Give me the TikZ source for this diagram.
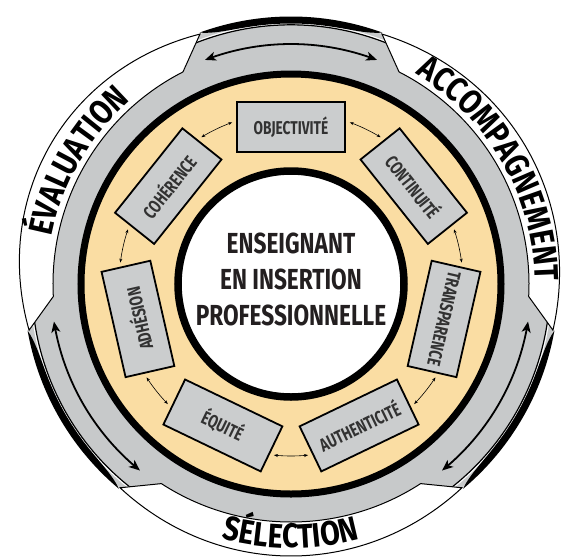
\documentclass[tikz,border=0pt]{standalone}
\usepackage{fontspec}
\setmainfont{Fira Sans}
\newfontfamily\lblfont[FakeStretch=0.84]{Fira Sans}
\newfontfamily\ctrfont[FakeStretch=0.78]{Fira Sans}
\newfontfamily\boxfont[FakeStretch=0.74]{Fira Sans}
\usetikzlibrary{arrows.meta,bending,decorations.text}
\definecolor{beige}{RGB}{250,221,163}
\definecolor{bandgray}{RGB}{199,201,202}
\definecolor{boxgray}{RGB}{203,205,206}
\definecolor{inkdark}{RGB}{35,31,32}
\definecolor{boxink}{RGB}{50,50,50}
\begin{document}
\begin{tikzpicture}[x=1pt,y=1pt,
  boxnode/.style={draw=black, line width=1.8pt, fill=boxgray, minimum width=108pt, minimum height=50pt, inner sep=0pt, font=\boxfont\bfseries\fontsize{18.5}{18.5}\selectfont, text=boxink},
  smallarr/.style={line width=0.6pt, {Stealth[length=4pt,width=3pt]}-{Stealth[length=4pt,width=3pt]}},
  bigarr/.style={line width=1.8pt, {Stealth[length=11pt,width=9pt,inset=3pt]}-{Stealth[length=11pt,width=9pt,inset=3pt]}},
  tabline/.style={draw=black, line width=1pt, fill=white},
  lbltext/.style={decorate, decoration={text along path, text align=center, text={|\lblfont\bfseries\fontsize{34}{34}\selectfont|#1}}}
]
\useasboundingbox (-291,-274) rectangle (276,284);
% grey band
\fill[bandgray] (0,0) circle[radius=266];
% outer rims of the grey segments
\foreach \c in {90,210,330}{
  \pgfmathsetmacro\sa{\c-20}
  \pgfmathsetmacro\sb{\c+20}
  \pgfmathsetmacro\ha{\c-21.5}
  \pgfmathsetmacro\hb{\c+21.5}
  \draw[black, line width=1.2pt] (\ha:259.2) arc[start angle=\ha, end angle=\hb, radius=259.2];
  \draw[white, line width=0.9pt] (\ha:260.6) arc[start angle=\ha, end angle=\hb, radius=260.6];
  \fill[black] plot[domain=\sa:\sb, samples=41] (\x:267.5)
     -- plot[domain=\sb:\sa, samples=41] (\x:{267.5-7*(1-(((\x-\c)/20)*((\x-\c)/20))^3)}) -- cycle;
}
% white label tabs
\foreach \c/\bl in {150/12, 30/6, 270/6}{
  \pgfmathsetmacro\ia{\c+33}
  \pgfmathsetmacro\ib{\c-33}
  \pgfmathsetmacro\oa{\c-40}
  \pgfmathsetmacro\ob{\c+40}
  \draw[tabline] (\ia:238) arc[start angle=\ia, end angle=\ib, radius=238] -- (\oa:266)
     -- plot[domain=\oa:\ob, samples=60] (\x:{266+\bl*cos(2.25*(\x-\c))}) -- cycle;
}
% big arrows in grey band
\foreach \c [count=\i] in {90,210,330}{
  \pgfmathsetmacro\aa{\c+21}
  \pgfmathsetmacro\ae{\c-21}
  \coordinate (ga\i) at (\aa:240);
  \draw[bigarr] (ga\i) arc[start angle=\aa, end angle=\ae, radius=240];
}
% beige ring and centre
\fill[beige] (0,0) circle[radius=210];
\draw[black, line width=7pt] (0,0) circle[radius=210];
\fill[white] (0,0) circle[radius=113];
\draw[black, line width=7.5pt] (0,0) circle[radius=113];
% labels
\path[lbltext=ÉVALUATION] (200:244) arc[start angle=200, end angle=100, radius=244];
\path[lbltext=ACCOMPAGNEMENT] (80:244) arc[start angle=80, end angle=-20, radius=244];
\path[lbltext=SÉLECTION] (230:264) arc[start angle=230, end angle=310, radius=264];
% centre text
\node[align=center, font=\ctrfont\bfseries\fontsize{29}{36}\selectfont, text=inkdark] (centre) at (0,5) {ENSEIGNANT\\EN INSERTION\\PROFESSIONNELLE};
% boxes
\node[boxnode, rotate=0] (objectivite) at (90:157) {OBJECTIVITÉ};
\node[boxnode, rotate=-51.429] (continuite) at (38.571:157) {CONTINUITÉ};
\node[boxnode, rotate=-102.857] (transparence) at (-12.857:157) {TRANSPARENCE};
\node[boxnode, rotate=25.714] (authenticite) at (-64.286:157) {AUTHENTICITÉ};
\node[boxnode, rotate=-25.714] (equite) at (-115.714:157) {ÉQUITÉ};
\node[boxnode, rotate=102.857] (adhesion) at (192.857:157) {ADHÉSION};
\node[boxnode, rotate=51.429] (coherence) at (141.429:157) {COHÉRENCE};
% small arrows between boxes
\foreach \m [count=\i] in {64.286, 12.857, -38.571, -90, -141.429, 167.143, 115.714}{
  \pgfmathsetmacro\sa{\m+5.7}
  \pgfmathsetmacro\sb{\m-5.7}
  \coordinate (sa\i) at (\sa:172);
  \draw[smallarr] (sa\i) arc[start angle=\sa, end angle=\sb, radius=172];
}
\end{tikzpicture}
\end{document}
